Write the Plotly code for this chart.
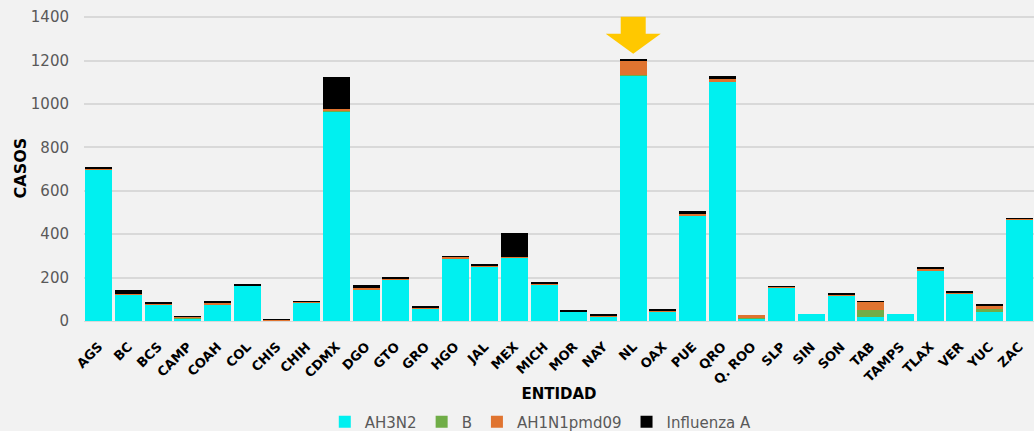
import plotly.graph_objects as go

entidades = ["AGS", "BC", "BCS", "CAMP", "COAH", "COL", "CHIS", "CHIH", "CDMX", "DGO",
             "GTO", "GRO", "HGO", "JAL", "MEX", "MICH", "MOR", "NAY", "NL", "OAX",
             "PUE", "QRO", "Q. ROO", "SLP", "SIN", "SON", "TAB", "TAMPS", "TLAX", "VER",
             "YUC", "ZAC"]

ah3n2 = [697, 120, 78, 12, 74, 162, 2, 84, 967, 145,
         190, 58, 288, 252, 293, 169, 42, 23, 1130, 44,
         488, 1105, 10, 153, 32, 119, 17, 32, 234, 125,
         43, 466]
b_vals = [2, 1, 0, 3, 2, 0, 1, 0, 5, 0,
          0, 0, 0, 0, 0, 0, 0, 0, 2, 0,
          0, 0, 3, 0, 0, 0, 35, 0, 0, 0,
          13, 0]
ah1n1 = [3, 2, 2, 4, 10, 2, 2, 5, 3, 5,
         5, 3, 7, 2, 4, 2, 3, 2, 64, 5,
         5, 8, 13, 4, 0, 5, 36, 0, 8, 7,
         14, 5]
infa = [4, 20, 4, 4, 6, 5, 3, 2, 148, 15,
        4, 5, 4, 5, 107, 5, 5, 4, 12, 5,
        15, 15, 0, 4, 0, 5, 4, 0, 5, 5,
        10, 2]

series = [("AH3N2", ah3n2, "#00F0F0"),
          ("B", b_vals, "#70AD47"),
          ("AH1N1pmd09", ah1n1, "#E07430"),
          ("Influenza A", infa, "#000000")]

highlight = "NL"

font_family = "DejaVu Sans, sans-serif"

fig = go.Figure()
for name, vals, color in series:
    fig.add_trace(go.Bar(x=entidades, y=vals, name=name, marker_color=color,
                         marker_line_width=0))

# highlight arrow above NL
idx = entidades.index(highlight)
total = ah3n2[idx] + b_vals[idx] + ah1n1[idx] + infa[idx]
fig.add_shape(type="path", xref="x", yref="y", xsizemode="pixel", ysizemode="pixel",
              xanchor=idx, yanchor=total,
              path="M -12.5 42 L 12.5 42 L 12.5 25 L 27.5 25 L 0 5 L -27.5 25 L -12.5 25 Z",
              fillcolor="#FFC800", line_width=0, layer="above")

fig.update_layout(
    barmode="stack",
    bargap=0.09,
    width=1034, height=431,
    margin=dict(l=84, r=0, t=15, b=110, autoexpand=False),
    paper_bgcolor="#F2F2F2",
    plot_bgcolor="#F2F2F2",
    font=dict(family=font_family, color="#595959"),
    showlegend=True,
    legend=dict(orientation="h", xref="container", yref="container",
                x=0.523, xanchor="center", y=0.021, yanchor="middle",
                font=dict(size=15, color="#595959"), itemwidth=30,
                traceorder="normal"),
    xaxis=dict(
        automargin=False,
        tickangle=-45,
        tickfont=dict(size=13, color="#000000", family=font_family, weight="bold"),
        title=dict(text="<b>ENTIDAD</b>", font=dict(size=15, color="#000000"), standoff=2),
        showgrid=False, zeroline=False, showline=True, linecolor="#D9D9D9",
        ticks="", ticklabelstandoff=12,
    ),
    yaxis=dict(
        automargin=False,
        range=[0, 1410],
        tickvals=[0, 200, 400, 600, 800, 1000, 1200, 1400],
        tickfont=dict(size=15, color="#595959"),
        title=dict(text="<b>CASOS</b>", font=dict(size=16, color="#000000"), standoff=0),
        gridcolor="#D9D9D9", gridwidth=1.5, zeroline=False,
        ticks="", ticklabelstandoff=14,
    ),
)

fig.write_html("out.html", config={"displayModeBar": False},
               post_script="document.body.style.margin='0';document.body.style.overflow='hidden';document.body.style.background='#F2F2F2';")
